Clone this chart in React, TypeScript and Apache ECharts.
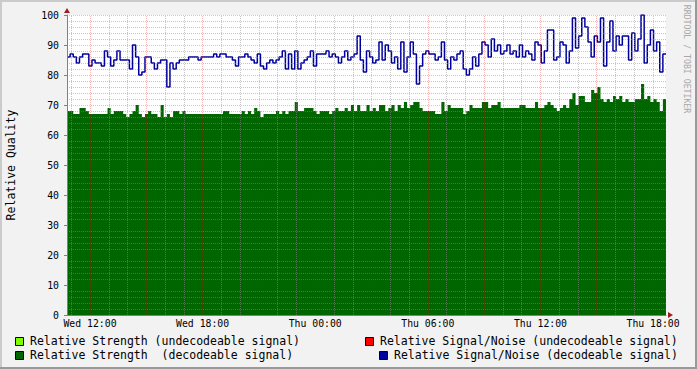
import React, { useEffect, useRef } from 'react';
import * as echarts from 'echarts';

// hours since Wed 00:00
const X_START = 10.775;
const X_END = 42.69;
const HOUR_LABELS = [12, 18, 24, 30, 36, 42];
const GRID_HOURS = [11, 12, 13, 14, 15, 16, 17, 18, 19, 20, 21, 22, 23, 24, 25, 26, 27, 28, 29, 30, 31, 32, 33, 34, 35, 36, 37, 38, 39, 40, 41, 42];
const GRID_VALUES = [2, 4, 6, 8, 10, 12, 14, 16, 18, 20, 22, 24, 26, 28, 30, 32, 34, 36, 38, 40, 42, 44, 46, 48, 50, 52, 54, 56, 58, 60, 62, 64, 66, 68, 70, 72, 74, 76, 78, 80, 82, 84, 86, 88, 90, 92, 94, 96, 98, 100];

// Relative Signal/Noise (decodeable signal)
const SNR_DECODEABLE = [
  86, 87, 86, 84, 86, 87, 87, 83, 85, 84, 84, 83, 88, 86, 83, 85, 88, 85, 85, 85, 82, 90, 86, 80, 81, 86, 86, 84, 82, 84, 85, 85, 76, 84, 82, 84, 85, 85,
  85, 86, 86, 86, 85, 86, 86, 86, 86, 87, 86, 87, 87, 86, 86, 85, 83, 86, 86, 87, 86, 85, 84, 87, 83, 82, 84, 85, 84, 85, 86, 88, 82, 87, 82, 88, 82, 84,
  85, 86, 88, 83, 87, 87, 87, 88, 86, 87, 86, 84, 86, 88, 85, 86, 87, 93, 85, 81, 88, 86, 84, 85, 91, 85, 90, 88, 84, 86, 82, 91, 81, 86, 91, 87, 77, 83, 87,
  88, 87, 87, 85, 86, 91, 85, 82, 86, 85, 87, 88, 82, 80, 82, 86, 83, 87, 91, 90, 86, 92, 88, 90, 87, 88, 90, 87, 88, 86, 90, 86, 88, 87, 85, 91, 90, 84,
  88, 95, 95, 85, 86, 91, 90, 84, 88, 99, 89, 93, 99, 96, 91, 86, 93, 91, 99, 83, 91, 98, 88, 93, 90, 93, 93, 85, 94, 88, 92, 100, 84, 90, 95, 88, 91, 81, 87,
];

// Relative Strength (decodeable signal)
const STRENGTH_DECODEABLE = [
  68, 68, 67, 67, 69, 69, 68, 67, 67, 67, 67, 67, 67, 69, 67, 68, 68, 68, 67, 66, 67, 68, 70, 67, 66, 67, 68, 67, 67, 66, 70, 66, 67, 66, 68, 68, 67, 68,
  67, 67, 67, 67, 67, 67, 67, 67, 67, 67, 67, 67, 68, 68, 67, 67, 67, 67, 68, 67, 68, 67, 69, 68, 66, 67, 67, 67, 67, 68, 67, 68, 67, 68, 68, 71, 68, 68,
  69, 69, 69, 68, 67, 68, 68, 68, 67, 68, 69, 68, 68, 69, 68, 70, 68, 70, 68, 68, 70, 68, 69, 68, 70, 70, 68, 69, 70, 68, 70, 69, 71, 69, 70, 71, 71, 69, 68,
  68, 68, 68, 67, 67, 71, 68, 70, 69, 69, 69, 69, 67, 68, 70, 69, 69, 69, 71, 71, 69, 70, 70, 71, 69, 69, 69, 69, 69, 69, 70, 70, 69, 69, 69, 71, 69, 69,
  70, 71, 70, 69, 68, 69, 70, 69, 72, 74, 70, 73, 73, 71, 71, 75, 74, 76, 72, 71, 72, 71, 73, 72, 73, 71, 72, 71, 71, 72, 72, 77, 72, 73, 71, 72, 71, 68, 72,
];

const LEGEND_LABELS = [
  'Relative Strength (undecodeable signal)',
  'Relative Strength  (decodeable signal)',
  'Relative Signal/Noise (undecodeable signal)',
  'Relative Signal/Noise (decodeable signal)',
];
const LEGEND_COLORS = ['#80FF00', '#006600', '#FF0000', '#00009C'];

const Y_TITLE = 'Relative Quality';
const WATERMARK = 'RRDTOOL / TOBI OETIKER';

const MONO = '"DejaVu Sans Mono", monospace';
const GRID_GRAY = 'rgba(140,140,140,0.5)';
const GRID_RED = 'rgba(230,0,0,0.28)';
const AXIS_GRAY = '#808080';
const ARROW = '#A02020';

function pad(n: number) {
  return n < 10 ? '0' + n : '' + n;
}

export default function App() {
  const ref = useRef<HTMLDivElement>(null);
  useEffect(() => {
    const chart = echarts.init(ref.current!, null, { renderer: 'svg' });
    const n = SNR_DECODEABLE.length;
    const dt = (X_END - X_START) / n;
    const toPts = (arr: number[]) => {
      const pts = arr.map((v, i) => [X_START + i * dt, v]);
      pts.push([X_END, arr[arr.length - 1]]);
      return pts;
    };

    const dotted = (color: string) => ({ color, type: [1, 1], width: 1, opacity: 1 });
    const gridLines: any[] = [];
    GRID_HOURS.forEach((h) => {
      gridLines.push({ xAxis: h, lineStyle: dotted(h % 3 === 0 ? GRID_RED : GRID_GRAY) });
    });
    GRID_VALUES.forEach((v) => {
      gridLines.push({ yAxis: v, lineStyle: dotted(v % 10 === 0 ? GRID_RED : GRID_GRAY) });
    });

    const legendPos = [
      { sx: 15, sy: 337, tx: 30, ty: 341 },
      { sx: 15, sy: 351, tx: 30, ty: 355 },
      { sx: 365, sy: 337, tx: 380, ty: 341 },
      { sx: 379, sy: 351, tx: 394, ty: 355 },
    ];
    const legendGraphics: any[] = [];
    LEGEND_LABELS.forEach((label, i) => {
      const p = legendPos[i];
      legendGraphics.push({
        type: 'rect',
        shape: { x: p.sx + 0.5, y: p.sy + 0.5, width: 8, height: 8 },
        style: { fill: LEGEND_COLORS[i], stroke: '#000', lineWidth: 1 },
        silent: true,
      });
      legendGraphics.push({
        type: 'text',
        x: p.tx,
        y: p.ty,
        style: {
          text: label,
          fill: '#000',
          fontFamily: MONO,
          fontSize: 11.5,
          align: 'left',
          verticalAlign: 'middle',
        },
        silent: true,
      });
    });

    const option: any = {
      animation: false,
      backgroundColor: '#F2F2F2',
      grid: {
        left: 67,
        top: 15,
        width: 599,
        height: 300,
        show: true,
        backgroundColor: '#FFFFFF',
        borderWidth: 0,
        containLabel: false,
        outerBoundsMode: 'none',
      },
      xAxis: {
        type: 'value',
        min: X_START,
        max: X_END,
        z: 6,
        axisLine: { show: true, lineStyle: { color: AXIS_GRAY, width: 1 } },
        axisTick: { show: false },
        axisLabel: {
          customValues: HOUR_LABELS,
          color: '#000',
          fontFamily: MONO,
          fontSize: 9.8,
          margin: 3,
          formatter: (v: number) => {
            const day = v < 24 ? 'Wed' : 'Thu';
            return day + ' ' + pad(Math.round(v) % 24) + ':00';
          },
        },
        splitLine: { show: false },
      },
      yAxis: {
        type: 'value',
        min: 0,
        max: 100,
        interval: 10,
        position: 'left',
        z: 6,
        axisLine: { show: true, lineStyle: { color: AXIS_GRAY, width: 1 } },
        axisTick: { show: true, length: 3, lineStyle: { color: AXIS_GRAY } },
        axisLabel: {
          color: '#000',
          fontFamily: MONO,
          fontSize: 9.8,
          margin: 8,
        },
        splitLine: { show: false },
      },
      series: [
        {
          name: LEGEND_LABELS[1],
          type: 'line',
          step: 'end',
          data: toPts(STRENGTH_DECODEABLE),
          showSymbol: false,
          symbol: 'none',
          lineStyle: { width: 0, color: LEGEND_COLORS[1] },
          areaStyle: { color: LEGEND_COLORS[1], opacity: 1 },
          itemStyle: { color: LEGEND_COLORS[1] },
          silent: true,
        },
        {
          name: LEGEND_LABELS[3],
          type: 'line',
          step: 'end',
          data: toPts(SNR_DECODEABLE),
          showSymbol: false,
          symbol: 'none',
          lineStyle: { width: 1.5, color: LEGEND_COLORS[3] },
          itemStyle: { color: LEGEND_COLORS[3] },
          silent: true,
          markLine: {
            silent: true,
            symbol: ['none', 'none'],
            label: { show: false },
            emphasis: { disabled: true },
            lineStyle: { type: [1, 1], width: 1 },
            data: gridLines,
          },
        },
      ],
      graphic: [
        { type: 'rect', shape: { x: 0, y: 0, width: 697, height: 2 }, style: { fill: '#CBCBCB' }, silent: true },
        { type: 'rect', shape: { x: 0, y: 0, width: 2, height: 369 }, style: { fill: '#CBCBCB' }, silent: true },
        { type: 'rect', shape: { x: 0, y: 367, width: 697, height: 2 }, style: { fill: '#999999' }, silent: true },
        { type: 'rect', shape: { x: 695, y: 0, width: 2, height: 369 }, style: { fill: '#999999' }, silent: true },
        {
          type: 'polygon',
          shape: { points: [[64, 13], [70, 13], [67, 8]] },
          style: { fill: ARROW },
          silent: true,
          z: 10,
        },
        {
          type: 'polygon',
          shape: { points: [[668, 312], [668, 318], [673, 315]] },
          style: { fill: ARROW },
          silent: true,
          z: 10,
        },
        {
          type: 'text',
          x: 11,
          y: 165,
          rotation: Math.PI / 2,
          style: {
            text: Y_TITLE,
            fill: '#000',
            fontFamily: MONO,
            fontSize: 11.5,
            align: 'center',
            verticalAlign: 'middle',
          },
          silent: true,
        },
        {
          type: 'text',
          x: 687,
          y: 59,
          rotation: -Math.PI / 2,
          style: {
            text: WATERMARK,
            fill: '#A8A8A8',
            fontFamily: MONO,
            fontSize: 8.2,
            align: 'center',
            verticalAlign: 'middle',
          },
          silent: true,
        },
        ...legendGraphics,
      ],
    };
    chart.setOption(option);
    return () => chart.dispose();
  }, []);
  return (
    <div style={{ position: 'fixed', left: 0, top: 0, width: 697, height: 369, background: '#F2F2F2' }}>
      <div ref={ref} style={{ width: 697, height: 369 }} />
    </div>
  );
}
